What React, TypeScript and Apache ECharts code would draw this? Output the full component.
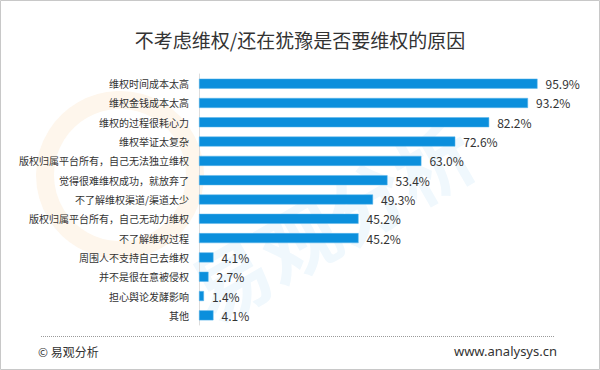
import React, { useEffect, useRef } from "react";
import * as echarts from "echarts";

const categories = [
  "维权时间成本太高",
  "维权金钱成本太高",
  "维权的过程很耗心力",
  "维权举证太复杂",
  "版权归属平台所有，自己无法独立维权",
  "觉得很难维权成功，就放弃了",
  "不了解维权渠道/渠道太少",
  "版权归属平台所有，自己无动力维权",
  "不了解维权过程",
  "周围人不支持自己去维权",
  "并不是很在意被侵权",
  "担心舆论发酵影响",
  "其他",
];
const values = [95.9, 93.2, 82.2, 72.6, 63.0, 53.4, 49.3, 45.2, 45.2, 4.1, 2.7, 1.4, 4.1];
const titleText = "不考虑维权/还在犹豫是否要维权的原因";
const sourceText = "© 易观分析";
const siteText = "www.analysys.cn";

export default function App() {
  const ref = useRef<HTMLDivElement>(null);
  useEffect(() => {
    if (!ref.current) return;
    const chart = echarts.init(ref.current, null, { renderer: "svg" });
    chart.setOption({
      animation: false,
      backgroundColor: "#ffffff",
      textStyle: { fontFamily: "'Noto Sans CJK SC', 'Noto Sans', sans-serif" },
      title: {
        text: titleText,
        left: "center",
        top: 25,
        textStyle: { fontSize: 19, fontWeight: "normal", color: "#333333" },
      },
      graphic: [
        {
          type: "circle",
          z: -10,
          silent: true,
          shape: { cx: 120, cy: 175, r: 75 },
          style: { fill: "none", stroke: "#fef6ec", lineWidth: 18 },
        },
        {
          type: "text",
          z: -10,
          silent: true,
          x: 215,
          y: 330,
          rotation: Math.PI / 6,
          style: {
            text: "易观分析",
            fontSize: 78,
            fontWeight: "bold",
            fill: "#f0f8fd",
            fontFamily: "'Noto Sans CJK SC', sans-serif",
            textVerticalAlign: "bottom",
          },
        },
        {
          type: "rect",
          silent: true,
          shape: { x: 0.5, y: 0.5, width: 599, height: 369 },
          style: { fill: "none", stroke: "#c8c8c8", lineWidth: 1 },
        },
        {
          type: "line",
          silent: true,
          shape: { x1: 41, y1: 336.5, x2: 554, y2: 336.5 },
          style: { stroke: "#9a9a9a", lineWidth: 1, lineDash: [1, 1] },
        },
        {
          type: "text",
          silent: true,
          x: 38,
          y: 351,
          style: {
            text: sourceText,
            fontSize: 12,
            fill: "#333333",
            textVerticalAlign: "middle",
            fontFamily: "'Noto Sans CJK SC', sans-serif",
          },
        },
        {
          type: "text",
          silent: true,
          x: 557,
          y: 351,
          style: {
            text: siteText,
            fontSize: 13,
            fill: "#333333",
            textAlign: "right",
            textVerticalAlign: "middle",
            fontFamily: "'Noto Sans', sans-serif",
          },
        },
      ],
      grid: { left: 199, right: 48, top: 74, bottom: 45, containLabel: false },
      xAxis: {
        type: "value",
        min: 0,
        max: 100,
        show: false,
      },
      yAxis: {
        type: "category",
        inverse: true,
        data: categories,
        axisLine: { show: true, lineStyle: { color: "#dddddd", width: 1 } },
        axisTick: { show: false },
        axisLabel: { fontSize: 10, color: "#333333", margin: 10 },
      },
      series: [
        {
          type: "bar",
          data: values,
          barWidth: 10,
          itemStyle: { color: "#0b8fdc", borderColor: "#5cb6ea", borderWidth: 0.5 },
          label: {
            show: true,
            position: "right",
            distance: 8,
            fontSize: 12,
            color: "#333333",
            formatter: (p: any) => p.value.toFixed(1) + "%",
          },
        },
      ],
    });
    return () => chart.dispose();
  }, []);
  return (
    <div
      ref={ref}
      style={{ position: "absolute", left: 0, top: 0, width: 600, height: 370 }}
    />
  );
}
